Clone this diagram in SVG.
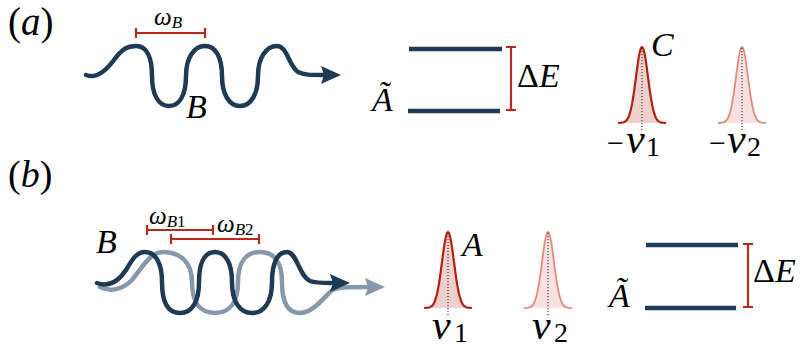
<svg xmlns="http://www.w3.org/2000/svg" width="801" height="349" viewBox="0 0 801 349">
<defs>
<style>
text{font-family:"Liberation Serif","Times New Roman",serif;fill:#000}
.i{font-style:italic}
.wave{fill:none;stroke-width:4.5;stroke-linecap:round;stroke-linejoin:round}
.dark{stroke:#1e3a54}
.gray{stroke:#8698aa}
.lvl{stroke:#1e3a54;stroke-width:4.5;stroke-linecap:butt}
.bar{stroke:#b52a1c;stroke-width:2.2;fill:none}
.g1{fill:#b52a1c;fill-opacity:0.22;stroke:#b0220f;stroke-width:2.2;stroke-linejoin:round}
.g2{fill:#e0877c;fill-opacity:0.25;stroke:#df8b80;stroke-width:1.8;stroke-linejoin:round}
.dot{stroke:#222;stroke-width:1;stroke-dasharray:1.2 1.8}
</style>
<marker id="arrD" viewBox="0 0 20 18" markerWidth="20" markerHeight="18" refX="2" refY="9" markerUnits="userSpaceOnUse" orient="auto">
<path d="M0,0 L20,9 L0,18 L3,9 z" fill="#1e3a54"/>
</marker>
<marker id="arrG" viewBox="0 0 20 18" markerWidth="20" markerHeight="18" refX="2" refY="9" markerUnits="userSpaceOnUse" orient="auto">
<path d="M0,0 L20,9 L0,18 L3,9 z" fill="#8698aa"/>
</marker>
<path id="gauss" d="M-24,0 L-20,-0.3 L-18,-0.8 L-16,-2.2 L-15,-3.3 L-14,-5 L-13,-7.3 L-12,-10.3 L-11,-14.2 L-10,-18.9 L-9,-24.7 L-8,-31.2 L-7,-38.5 L-6,-46.1 L-5,-53.7 L-4,-60.9 L-3,-67.1 L-2,-71.9 L-1,-75 L0,-76 L1,-75 L2,-71.9 L3,-67.1 L4,-60.9 L5,-53.7 L6,-46.1 L7,-38.5 L8,-31.2 L9,-24.7 L10,-18.9 L11,-14.2 L12,-10.3 L13,-7.3 L14,-5 L15,-3.3 L16,-2.2 L18,-0.8 L20,-0.3 L24,0"/>
</defs>

<g id="labels">
<text x="8" y="35" font-size="39">(<tspan class="i">a</tspan>)</text>
<text x="8" y="187" font-size="38">(<tspan class="i">b</tspan>)</text>
</g>

<g id="connectors">
<path class="wave dark" marker-end="url(#arrD)" d="M86,75 C96,79 105,72 114,60 C122,49 127,46 136,46 C147,46 152,58 152,76 C152,94 158,106 169,106 C180,106 186,94 186,76 C186,58 194,46 205,46 C216,46 222,58 222,76 C222,94 229,106 240,106 C251,106 258,94 258,76 C258,58 266,46 277,46 C287,46 289,66 298,72 C304,75 310,75 323,75"/>
<path class="wave gray" marker-end="url(#arrG)" d="M100,287 C110,292 122,290 132,280 C142,268 150,252 163,252 C180,252 192,262 192,282 C192,302 200,313 215,313 C230,313 238,302 238,282 C238,262 246,252 260,252 C274,252 282,262 282,282 C282,302 288,313 300,313 C312,313 322,300 331,291 C337,287 345,287 367,287"/>
<path class="wave dark" marker-end="url(#arrD)" d="M97,283 C108,287 118,282 126,270 C133,258 137,252 145,252 C156,252 162,264 162,282 C162,302 168,313 180,313 C192,313 199,302 199,282 C199,264 204,252 215,252 C226,252 232,264 232,282 C232,302 240,313 252,313 C264,313 272,302 272,282 C272,264 277,252 287,252 C297,252 299,276 310,281 C315,283 320,283 332,283"/>
</g>

<g id="wave-a-labels">
<path class="bar" d="M136,33 H205 M136,28 V38 M205,28 V38"/>
<text class="i" x="154" y="25" font-size="25">ω<tspan font-size="17" dy="3">B</tspan></text>
<text class="i" x="186" y="118" font-size="34">B</text>
</g>

<g id="levels-a">
<line class="lvl" x1="409" y1="49" x2="502" y2="49"/>
<line class="lvl" x1="408" y1="111" x2="500" y2="111"/>
<path class="bar" d="M511,47 V110 M506,47 H516 M506,110 H516"/>
<text class="i" x="372" y="111" font-size="34">Ã</text>
<text x="517" y="87" font-size="34">Δ<tspan class="i">E</tspan></text>
</g>

<g id="gauss-a1">
<use href="#gauss" class="g1" transform="translate(642,123)"/>
<line class="dot" x1="642" y1="48" x2="642" y2="131"/>
<text class="i" x="651" y="56" font-size="34">C</text>
<text x="607" y="153" font-size="30">−</text>
<text class="i" x="626" y="153" font-size="42">v</text>
<text x="646" y="156" font-size="28">1</text>
</g>

<g id="gauss-a2">
<use href="#gauss" class="g2" transform="translate(742,123)"/>
<line class="dot" x1="742" y1="48" x2="742" y2="131"/>
<text x="709" y="153" font-size="30">−</text>
<text class="i" x="727" y="153" font-size="42">v</text>
<text x="747" y="156" font-size="28">2</text>
</g>

<g id="wave-b-labels">
<path class="bar" d="M147,230 H213 M147,225 V235 M213,225 V235"/>
<path class="bar" d="M171,239 H259 M171,234 V244 M259,234 V244"/>
<text class="i" x="149" y="224" font-size="25">ω<tspan font-size="17" dy="3">B</tspan><tspan font-size="17" font-style="normal">1</tspan></text>
<text class="i" x="217" y="232" font-size="25">ω<tspan font-size="17" dy="3">B</tspan><tspan font-size="17" font-style="normal">2</tspan></text>
<text class="i" x="96" y="253" font-size="34">B</text>
</g>

<g id="gauss-b1">
<use href="#gauss" class="g1" transform="translate(448,308)"/>
<line class="dot" x1="448" y1="233" x2="448" y2="316"/>
<text class="i" x="462" y="256" font-size="34">A</text>
<text class="i" x="432" y="339" font-size="42">v</text>
<text x="454" y="342" font-size="28">1</text>
</g>

<g id="gauss-b2">
<use href="#gauss" class="g2" transform="translate(548,308)"/>
<line class="dot" x1="548" y1="233" x2="548" y2="316"/>
<text class="i" x="532" y="339" font-size="42">v</text>
<text x="554" y="342" font-size="28">2</text>
</g>

<g id="levels-b">
<line class="lvl" x1="646" y1="245" x2="738" y2="245"/>
<line class="lvl" x1="645" y1="308" x2="736" y2="308"/>
<path class="bar" d="M748,244 V307 M743,244 H753 M743,307 H753"/>
<text class="i" x="609" y="307" font-size="34">Ã</text>
<text x="753" y="282" font-size="34">Δ<tspan class="i">E</tspan></text>
</g>
</svg>
